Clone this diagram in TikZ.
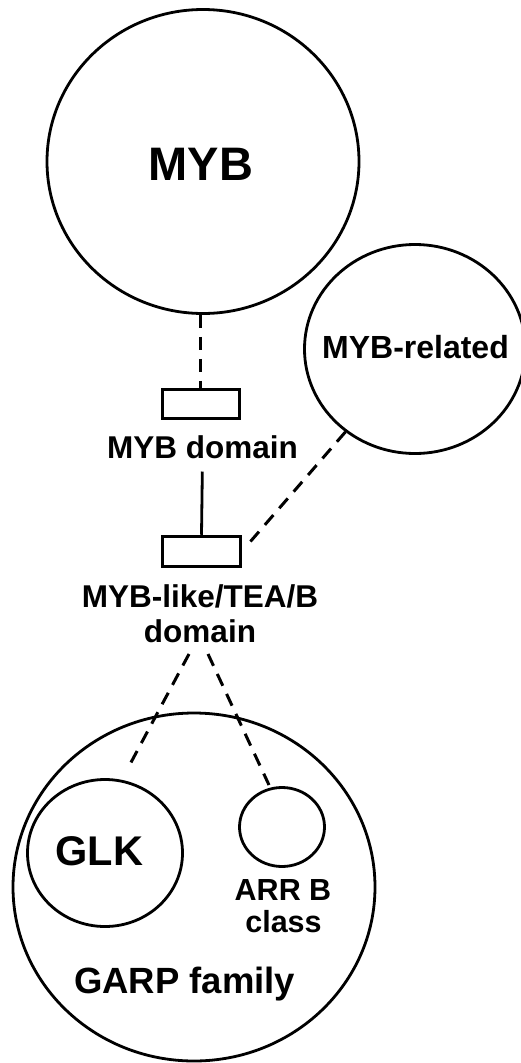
\documentclass[tikz,border=0pt]{standalone}
\usepackage{fontspec}
\setmainfont{Liberation Sans}
\usetikzlibrary{shapes.geometric,calc}
\newcommand\myfs[1]{\fontsize{#1}{#1}\selectfont\bfseries}
\begin{document}
\begin{tikzpicture}[x=1pt,y=-1pt,
  ring/.style={draw=black,line width=2.8pt,ellipse,inner sep=0pt},
  dombox/.style={draw=black,line width=3.1pt,rectangle,inner sep=0pt},
  lbl/.style={inner sep=0pt,anchor=base},
  dline/.style={line width=3pt,dash pattern=on 13pt off 9pt},
  sline/.style={line width=2.8pt}]
\useasboundingbox (0,0) rectangle (521,1063);
% circles
\node[ring,minimum width=312pt,minimum height=304pt] (myb) at (203,161.5) {};
\node[ring,minimum width=221pt,minimum height=209pt] (mr) at (415,349) {};
\node[ring,minimum width=362pt,minimum height=348pt] (garp) at (194,887) {};
\node[ring,minimum width=155pt,minimum height=147pt] (glk) at (105,853) {};
\node[ring,minimum width=85pt,minimum height=79pt] (arr) at (282,827) {};
% domain boxes
\node[dombox,minimum width=77pt,minimum height=29pt] (r1) at (200.8,404.2) {};
\node[dombox,minimum width=78pt,minimum height=30pt] (r2) at (201.5,551.3) {};
% labels
\node[lbl] (tmyb) at (201,180) {\myfs{47}MYB};
\node[lbl] (tmr) at (415.5,358) {\myfs{32}MYB-related};
\node[lbl] (tl1) at (202.5,458) {\myfs{31.5}MYB domain};
\node[lbl] (tl2a) at (200,607) {\myfs{31.5}MYB-like/TEA/B};
\node[lbl] (tl2b) at (200,642) {\myfs{31.5}domain};
\node[lbl] (tglk) at (99.5,865) {\myfs{41.5}GLK};
\node[lbl] (tarra) at (283,900) {\myfs{30.5}ARR B};
\node[lbl] (tarrb) at (283.5,932) {\myfs{30.5}class};
\node[lbl] (tgarp) at (184.7,993) {\myfs{36.5}GARP family};
% free ends
\coordinate (c1) at (250,542);
\coordinate (c2) at (189,654);
\coordinate (c3) at (128,768);
\coordinate (c4) at (208,654);
\coordinate (c5) at (269,785);
% connectors
\draw[dline] (myb.south -| r1.north) -- (r1.north);
\draw[sline,shorten <=13pt] (tl1.south) -- (r2.north);
\draw[dline] (mr.230) -- (c1);
\draw[dline] (c2) -- (c3);
\draw[dline] (c4) -- (c5);
\end{tikzpicture}
\end{document}
